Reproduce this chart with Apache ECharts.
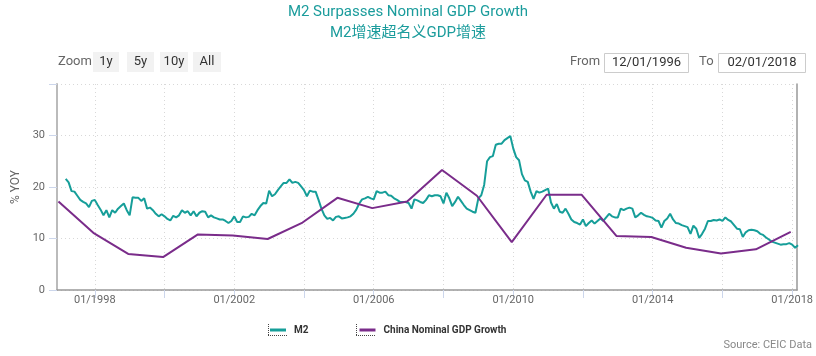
<!DOCTYPE html>
<html><head><meta charset="utf-8">
<script src="https://cdn.jsdelivr.net/npm/echarts@6/dist/echarts.min.js"></script>
<style>html,body{margin:0;padding:0;background:#fff}#c{width:816px;height:356px}</style>
</head><body><div id="c"></div><script>
const titleText = 'M2 Surpasses Nominal GDP Growth';
const subtitleText = 'M2增速超名义GDP增速';
const seriesNames = ['M2', 'China Nominal GDP Growth'];
const m2StartYear = 1997, m2StartMonth = 3;
const m2Values = [
 21.6, 20.9, 19.2, 19.1, 18.3, 17.5, 17.1, 16.8, 16.1, 17.3,
 17.5, 16.5, 15.6, 14.5, 15.5, 14.1, 15.5, 15.0, 15.8, 16.3, 16.8, 15.5,
 14.5, 18.0, 17.9, 17.9, 17.3, 17.8, 15.8, 16.0, 15.5, 14.8, 14.3, 14.7,
 14.3, 13.8, 13.5, 14.4, 14.1, 14.5, 15.5, 15.0, 15.3, 14.5, 15.3, 14.3,
 15.0, 15.3, 15.2, 14.1, 14.5, 14.1, 13.9, 13.7, 13.7, 13.4, 13.0, 13.4,
 14.3, 13.2, 13.2, 14.3, 14.1, 14.2, 14.8, 14.5, 15.5, 16.3, 16.9, 16.8,
 19.3, 18.2, 18.6, 19.4, 20.1, 20.8, 20.8, 21.5, 20.8, 21.0, 20.8, 20.1,
 19.4, 18.2, 19.3, 19.1, 19.1, 17.5, 15.8, 14.5, 13.8, 14.0, 13.5, 14.2,
 14.3, 13.9, 14.0, 14.1, 14.3, 14.8, 15.6, 16.8, 17.6, 17.8, 18.1, 17.8,
 17.6, 19.2, 18.9, 18.9, 19.1, 18.4, 18.3, 17.8, 17.5, 17.1, 17.1, 17.1,
 16.9, 15.8, 17.6, 17.4, 17.1, 16.9, 17.5, 18.4, 18.2, 18.4, 18.4, 18.2,
 16.8, 18.9, 17.8, 16.3, 17.1, 18.1, 17.3, 16.5, 15.8, 15.5, 15.2, 15.0,
 17.8, 18.4, 20.4, 25.0, 25.8, 26.0, 28.2, 28.4, 28.4, 29.1, 29.5, 29.9,
 27.5, 25.8, 25.2, 22.5, 21.3, 21.0, 19.1, 17.7, 19.2, 18.9, 19.1, 19.4,
 19.7, 17.0, 15.8, 16.7, 15.2, 15.0, 15.8, 14.8, 13.7, 13.2, 13.0, 12.7,
 13.7, 12.4, 13.0, 13.5, 12.9, 13.4, 13.9, 13.4, 14.1, 14.8, 14.3, 14.1,
 14.1, 15.8, 15.5, 15.8, 16.0, 15.8, 14.1, 14.5, 15.0, 14.6, 14.3, 14.2,
 14.0, 13.5, 13.4, 12.1, 13.4, 13.9, 14.8, 13.7, 13.0, 12.9, 12.6, 12.4,
 12.2, 10.9, 12.5, 11.9, 10.1, 10.9, 11.9, 13.4, 13.4, 13.6, 13.5, 13.7,
 13.4, 14.1, 13.6, 13.3, 12.6, 11.9, 11.8, 10.3, 11.2, 11.6, 11.7, 11.6,
 11.4, 10.9, 10.7, 10.2, 9.8, 9.4, 9.2, 9.0, 8.8, 8.9, 8.9, 9.1,
 8.8, 8.2, 8.7
];
const gdpYears = [1996,1997,1998,1999,2000,2001,2002,2003,2004,2005,2006,2007,2008,2009,2010,2011,2012,2013,2014,2015,2016,2017];
const gdpValues = [17.2,11.1,7.0,6.4,10.8,10.6,9.9,13.1,17.9,15.9,17.2,23.3,18.3,9.3,18.5,18.5,10.5,10.3,8.2,7.1,7.9,11.3];
const xTickYears = [1998,2000,2002,2004,2006,2008,2010,2012,2014,2016,2018];
const xLabelYears = [1998,2002,2006,2010,2014,2018];
const zoomButtons = ['1y','5y','10y','All'];
const fromDate = '12/01/1996', toDate = '02/01/2018';
const sourceText = 'Source: CEIC Data';

const FONT = 'Roboto, "Noto Sans CJK SC", sans-serif';
const m2Data = m2Values.map((v, i) => [m2StartYear + (m2StartMonth - 1 + i) / 12, v]);
const gdpData = gdpValues.map((v, i) => [gdpYears[i] + 11.5 / 12, v]);

const chart = echarts.init(document.getElementById('c'), null, {renderer: 'canvas'});

const btnX = [93, 127, 160, 193], btnW = [26, 27, 28, 28];
const graphics = [
  {type: 'text', x: 58, y: 62, style: {text: 'Zoom', fontSize: 13, fill: '#666', verticalAlign: 'middle', fontFamily: FONT}}
];
zoomButtons.forEach((b, i) => {
  graphics.push({type: 'rect', shape: {x: btnX[i], y: 52, width: btnW[i], height: 20}, style: {fill: '#f2f2f2'}});
  graphics.push({type: 'text', x: btnX[i] + btnW[i] / 2, y: 62, style: {text: b, fontSize: 13, fill: '#333', align: 'center', verticalAlign: 'middle', fontFamily: FONT}});
});
graphics.push(
  {type: 'text', x: 570, y: 62, style: {text: 'From', fontSize: 13, fill: '#666', verticalAlign: 'middle', fontFamily: FONT}},
  {type: 'rect', shape: {x: 604.5, y: 53.5, width: 84, height: 19}, style: {fill: '#fff', stroke: '#ccc', lineWidth: 1}},
  {type: 'text', x: 646.5, y: 63, style: {text: fromDate, fontSize: 13, fill: '#333', align: 'center', verticalAlign: 'middle', fontFamily: FONT}},
  {type: 'text', x: 699, y: 62, style: {text: 'To', fontSize: 13, fill: '#666', verticalAlign: 'middle', fontFamily: FONT}},
  {type: 'rect', shape: {x: 718.5, y: 53.5, width: 87, height: 19}, style: {fill: '#fff', stroke: '#ccc', lineWidth: 1}},
  {type: 'text', x: 762, y: 63, style: {text: toDate, fontSize: 13, fill: '#333', align: 'center', verticalAlign: 'middle', fontFamily: FONT}},
  {type: 'text', x: 812, y: 345, style: {text: sourceText, fontSize: 11, fill: '#888', align: 'right', verticalAlign: 'middle', fontFamily: FONT}}
);
// dotted frames beside legend icons
[268, 356].forEach(x0 => {
  graphics.push(
    {type: 'line', shape: {x1: x0 + 0.5, y1: 324, x2: x0 + 0.5, y2: 335}, style: {stroke: '#444', lineWidth: 1, lineDash: [1, 1]}},
    {type: 'line', shape: {x1: x0, y1: 335.5, x2: x0 + 19, y2: 335.5}, style: {stroke: '#444', lineWidth: 1, lineDash: [1, 1]}}
  );
});

chart.setOption({
  animation: false,
  backgroundColor: '#fff',
  title: {
    text: titleText, subtext: subtitleText, left: 'center', top: 0, itemGap: 6,
    textStyle: {fontSize: 15, fontWeight: 'normal', color: '#1b9c9c', fontFamily: FONT},
    subtextStyle: {fontSize: 15, color: '#1b9c9c', fontFamily: FONT}
  },
  grid: {left: 57, right: 13, top: 84, bottom: 66, containLabel: false},
  legend: {
    data: seriesNames, left: 270, top: 325, padding: 0, icon: 'rect', itemWidth: 16, itemHeight: 3, itemGap: 51,
    textStyle: {fontSize: 10, fontWeight: 'bold', color: '#333', fontFamily: FONT, padding: [0, 0, 0, 3]}
  },
  xAxis: {
    type: 'value', min: 1996 + 11 / 12, max: 2018.14, interval: 2,
    axisLine: {show: true, lineStyle: {color: '#999', width: 1.5}},
    axisTick: {show: true, length: 8, customValues: xTickYears, lineStyle: {color: '#ccd6eb'}},
    axisLabel: {customValues: xLabelYears, formatter: v => '01/' + Math.round(v), fontSize: 11, color: '#666', margin: 5, fontFamily: FONT},
    splitLine: {show: true, lineStyle: {type: [1, 3], color: '#d8d8d8'}}
  },
  yAxis: [{
    type: 'value', min: 0, max: 40, interval: 10,
    name: '% YOY', nameLocation: 'middle', nameGap: 33,
    nameTextStyle: {fontSize: 12, color: '#666', fontFamily: FONT},
    axisLine: {show: true, lineStyle: {color: '#bbb', width: 2}},
    axisTick: {show: true, length: 8, lineStyle: {color: '#ccd6eb'}},
    axisLabel: {formatter: v => v === 40 ? '' : String(v), fontSize: 11, color: '#666', margin: 12, fontFamily: FONT},
    splitLine: {show: true, lineStyle: {type: [1, 3], color: '#d8d8d8'}}
  }, {
    type: 'value', min: 0, max: 40, interval: 10, position: 'right',
    axisLine: {show: true, lineStyle: {color: '#999', width: 1.5}},
    axisTick: {show: false}, axisLabel: {show: false}, splitLine: {show: false}
  }],
  series: [
    {name: seriesNames[0], type: 'line', data: m2Data, showSymbol: false, clip: true,
     lineStyle: {width: 2, color: '#169e99'}, itemStyle: {color: '#169e99'}},
    {name: seriesNames[1], type: 'line', data: gdpData, showSymbol: false, clip: true,
     lineStyle: {width: 2, color: '#7a2c8a'}, itemStyle: {color: '#7a2c8a'}}
  ],
  graphic: graphics
});
</script></body></html>
